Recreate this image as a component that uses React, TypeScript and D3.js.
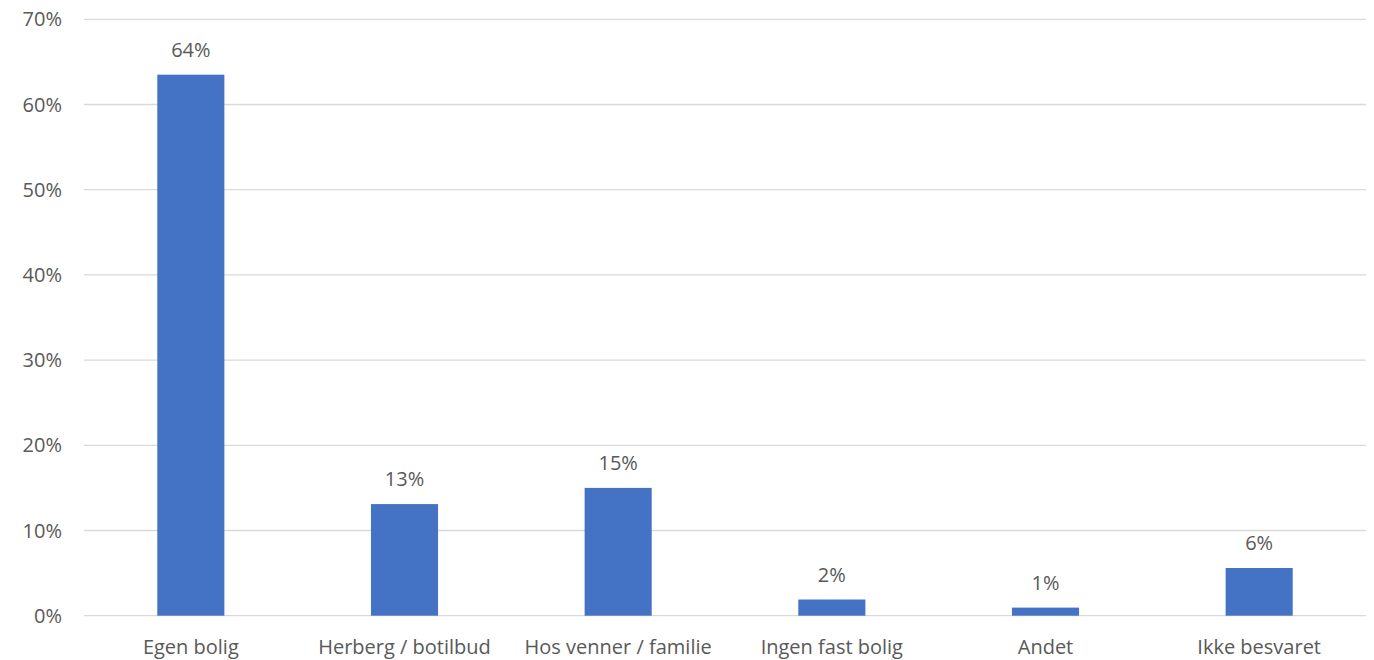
import React from "react";
import * as d3 from "d3";

const categories = ["Egen bolig", "Herberg / botilbud", "Hos venner / familie", "Ingen fast bolig", "Andet", "Ikke besvaret"];
const values = [63.5, 13.1, 15.0, 1.9, 0.95, 5.6];
const labels = ["64%", "13%", "15%", "2%", "1%", "6%"];
const yTicks = [0, 10, 20, 30, 40, 50, 60, 70];

export default function App() {
  const W = 1374, H = 660;
  const left = 84, right = 1366, top = 19.3, bottom = 615.7;
  const x = d3.scaleBand<string>().domain(categories).range([left, right]).paddingInner(0.686).paddingOuter(0.343);
  const y = d3.scaleLinear().domain([0, 70]).range([bottom, top]);
  const font = "Open Sans, sans-serif";
  const fill = "#595959";
  const fs = 20;
  return (
    <svg width={W} height={H} style={{ position: "absolute", left: 0, top: 0 }}>
      <rect width={W} height={H} fill="#fff" />
      {yTicks.map((t) => (
        <g key={t}>
          <line x1={left} x2={right} y1={y(t)} y2={y(t)} stroke="#d9d9d9" strokeWidth={1.3} />
          <text x={62} y={y(t)} dy="0.35em" textAnchor="end" fontFamily={font} fontSize={fs} fill={fill}>
            {t + "%"}
          </text>
        </g>
      ))}
      {categories.map((c, i) => {
        const bx = x(c)!;
        const bw = x.bandwidth();
        return (
          <g key={c}>
            <rect x={bx} y={y(values[i])} width={bw} height={y(0) - y(values[i])} fill="#4472C4" />
            <text x={bx + bw / 2} y={y(values[i]) - 25} dy="0.35em" textAnchor="middle" fontFamily={font} fontSize={fs} fill={fill}>
              {labels[i]}
            </text>
            <text x={bx + bw / 2} y={647} dy="0.35em" textAnchor="middle" fontFamily={font} fontSize={fs} fill={fill}>
              {c}
            </text>
          </g>
        );
      })}
    </svg>
  );
}
